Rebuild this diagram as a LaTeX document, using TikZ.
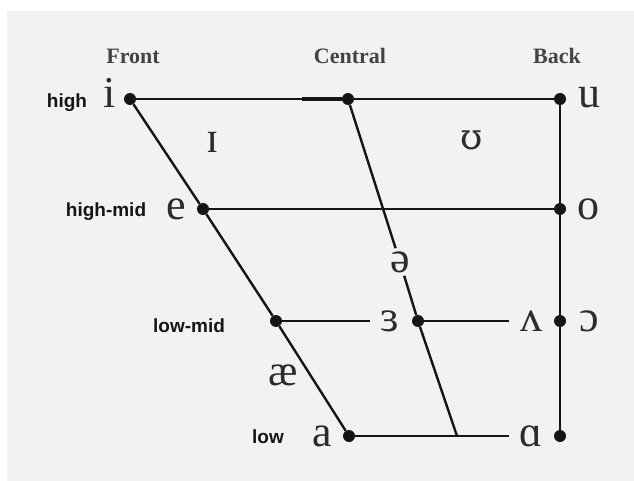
\documentclass[tikz,border=0pt]{standalone}
\usepackage{fontspec}
\setmainfont{Liberation Serif}
\setsansfont{Liberation Sans}
\newfontfamily\ipafont{Liberation Serif}
\newfontfamily\ipaalt{DejaVu Serif}
\usepackage{xcolor}
\definecolor{chartbg}{HTML}{F2F2F2}
\definecolor{chartink}{HTML}{151515}

\begin{document}
\begin{tikzpicture}[x=1pt,y=-1pt,
  vdot/.style={circle,fill=chartink,inner sep=0pt,minimum size=12pt},
  vowel/.style={font=\ipafont\fontsize{44}{44}\selectfont,text=chartink!90,inner sep=0pt},
  height/.style={font=\sffamily\bfseries\fontsize{19}{19}\selectfont,text=chartink},
  column/.style={font=\bfseries\fontsize{22}{22}\selectfont,text=chartink!80},
  chartline/.style={draw=chartink,line width=2.4pt}]
  % background
  \fill[white] (0,0) rectangle (634,481);
  \fill[chartbg] (7,11) rectangle (634,481);
  % corner dots
  \node[vdot] (hi) at (130,99) {};
  \node[vdot] (hc) at (348,99) {};
  \node[vdot] (hb) at (560,99) {};
  \node[vdot] (mf) at (203,209) {};
  \node[vdot] (mb) at (560,209) {};
  \node[vdot] (lmf) at (276,321) {};
  \node[vdot] (lmc) at (418,321) {};
  \node[vdot] (lmb) at (560,321) {};
  \node[vdot] (lf) at (349,436) {};
  \node[vdot] (lb) at (560,436) {};
  \coordinate (lc) at (457,436);
  \coordinate (hcx) at (302,99);
  % column and height labels
  \node[column] (front) at (133,56) {Front};
  \node[column] (central) at (350,56) {Central};
  \node[column] (back) at (557,56) {Back};
  \node[height] (lhigh) at (67,103) {high};
  \node[height] (lhighmid) at (106,212) {high-mid};
  \node[height] (llowmid) at (189,326) {low-mid};
  \node[height] (llow) at (268,437) {low};
  % vowels
  \node[vowel] (vi) at (110,93) {i};
  \node[vowel] (vu) at (589,98) {u};
  \node[vowel] (vsmi) at (213,142) {ɪ};
  \node[vowel,font=\ipaalt\fontsize{36}{36}\selectfont] (vups) at (472,140) {ʊ};
  \node[vowel] (ve) at (176,209) {e};
  \node[vowel] (vo) at (588,209) {o};
  \node[vowel,fill=chartbg,inner sep=3pt] (vschwa) at (400,262) {ə};
  \node[vowel] (ver) at (390,321) {ɜ};
  \node[vowel] (vwedge) at (531,321) {ʌ};
  \node[vowel] (vopen) at (589,321) {ɔ};
  \node[vowel] (vae) at (283,375) {æ};
  \node[vowel] (va) at (322,436) {a};
  \node[vowel] (valpha) at (531,436) {ɑ};
  % lines
  \draw[chartline] (hi) -- (hc) -- (hb);
  \draw[draw=chartink,line width=4pt] (hcx) -- (hc);
  \draw[chartline] (mf) -- (mb);
  \draw[chartline,shorten >=11pt] (lmf) -- (lmf -| ver.west);
  \draw[chartline,shorten >=11pt] (lmc) -- (lmc -| vwedge.west);
  \draw[chartline,shorten >=10pt] (lf) -- (lf -| valpha.west);
  \draw[chartline] (hi) -- (mf) -- (lmf) -- (lf);
  \draw[chartline] (hc) -- (vschwa) -- (lmc) -- (lc);
  \draw[chartline] (hb) -- (mb) -- (lmb) -- (lb);
\end{tikzpicture}
\end{document}
